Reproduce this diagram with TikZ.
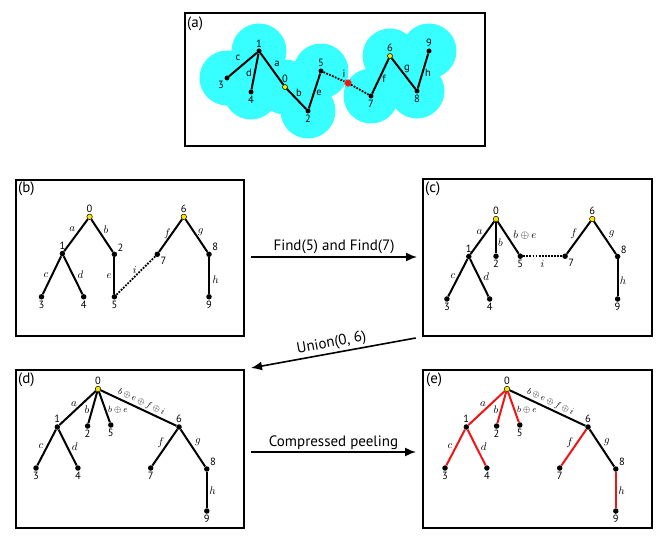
\documentclass[tikz,border=0pt]{standalone}
\usepackage{fontspec}
\setmainfont{PT Sans}
\usetikzlibrary{arrows.meta,shapes.geometric}
\definecolor{cyanfill}{RGB}{55,255,255}
\definecolor{redE}{RGB}{240,20,20}
\definecolor{yel}{RGB}{255,230,0}
\begin{document}
\begin{tikzpicture}[x=1pt,y=-1pt,
 dot/.style={circle,fill=black,inner sep=0pt,minimum size=5.5pt,label distance=1.5pt},
 ydot/.style={circle,fill=yel,draw=black,line width=0.5pt,inner sep=0pt,minimum size=5.5pt,label distance=1.5pt},
 every label/.style={font=\fontsize{10.5}{12}\selectfont,inner sep=1pt},
 el/.style={font=\fontsize{11}{12}\selectfont,inner sep=0pt},
 sl/.style={font=\fontsize{10.5}{12}\selectfont,inner sep=0pt},
 tedge/.style={line width=2pt},
 dedge/.style={line width=1.8pt,dash pattern=on 1.8pt off 1.3pt},
 panel/.style={draw,line width=1.6pt},
 plabel/.style={font=\fontsize{15}{17}\selectfont,anchor=north west,inner sep=0pt},
 arr/.style={line width=1.6pt,-{Latex[length=11pt,width=9pt]}},
 alabel/.style={font=\fontsize{15}{17}\selectfont,inner sep=2pt}
]
\useasboundingbox (0,0) rectangle (664,545);

% ---------------- panel (a)
\draw[panel] (185,13) rectangle (485,146);
\node[plabel] (la) at (187,17) {(a)};
\foreach \x/\y in {259/51,227/78,251/92,285/87,308/111,321/71,371/96,390/56,417/91,429/51}
  \fill[cyanfill] (\x,\y) circle (27.5);
\node[dot,minimum size=5pt,label={above:1}] (a1) at (259,51) {};
\node[dot,minimum size=5pt,label={below left:3}] (a3) at (227,78) {};
\node[dot,minimum size=5pt,label={below:4}] (a4) at (251,92) {};
\node[ydot,minimum size=5pt,label={above:0}] (a0) at (285,87) {};
\node[dot,minimum size=5pt,label={below:2}] (a2) at (308,111) {};
\node[dot,minimum size=5pt,label={above:5}] (a5) at (321,71) {};
\node[star,star points=10,star point ratio=1.7,fill=redE,inner sep=0pt,minimum size=9pt] (ast) at (348,83) {};
\node[dot,minimum size=5pt,label={below:7}] (a7) at (371,96) {};
\node[ydot,minimum size=5pt,label={above:6}] (a6) at (390,56) {};
\node[dot,minimum size=5pt,label={below:8}] (a8) at (417,91) {};
\node[dot,minimum size=5pt,label={above:9}] (a9) at (429,51) {};
\draw[tedge] (a1) -- (a3);
\draw[tedge] (a1) -- (a4);
\draw[tedge] (a1) -- (a0);
\draw[tedge] (a0) -- (a2);
\draw[tedge] (a2) -- (a5);
\draw[dedge] (a5) -- (ast);
\draw[dedge] (ast) -- (a7);
\draw[tedge] (a7) -- (a6);
\draw[tedge] (a6) -- (a8);
\draw[tedge] (a8) -- (a9);
\node[sl] (ac) at (238,58) {c};
\node[sl] (ad) at (249,73) {d};
\node[sl] (aa) at (277,64) {a};
\node[sl] (ab) at (299,93) {b};
\node[sl] (ae) at (319,93) {e};
\node[sl] (ai) at (344,74) {i};
\node[sl] (af) at (384,79) {f};
\node[sl] (ag) at (407,69) {g};
\node[sl] (ah) at (428,73) {h};

% ---------------- panel (b)
\draw[panel] (16,180) rectangle (244,336);
\node[plabel] (lb) at (18,182) {(b)};
\node[ydot,label={above:0}] (b0) at (89.6,216.8) {};
\node[dot,label={above:1}] (b1) at (62.4,253.6) {};
\node[dot,label={[label distance=0pt]above right:2}] (b2) at (114.4,254.3) {};
\node[dot,label={below:3}] (b3) at (41.5,296.8) {};
\node[dot,label={below:4}] (b4) at (83.7,296.8) {};
\node[dot,label={below:5}] (b5) at (114.4,296.8) {};
\node[ydot,label={above:6}] (b6) at (183.8,216.8) {};
\node[dot,label={[label distance=0pt]below right:7}] (b7) at (157.3,254.3) {};
\node[dot,label={[label distance=0pt]above right:8}] (b8) at (209,254.3) {};
\node[dot,label={below:9}] (b9) at (209,296.8) {};
\draw[tedge] (b0) -- (b1);
\draw[tedge] (b0) -- (b2);
\draw[tedge] (b1) -- (b3);
\draw[tedge] (b1) -- (b4);
\draw[tedge] (b2) -- (b5);
\draw[dedge] (b5) -- (b7);
\draw[tedge] (b7) -- (b6);
\draw[tedge] (b6) -- (b8);
\draw[tedge] (b8) -- (b9);
\node[el] (bla) at (72.2,229.4) {$a$};
\node[el] (blb) at (105.9,229.4) {$b$};
\node[el] (blc) at (46,274.7) {$c$};
\node[el] (bld) at (80.4,274.7) {$d$};
\node[el] (ble) at (109.2,276.4) {$e$};
\node[el] (blf) at (167.4,233.8) {$f$};
\node[el] (blg) at (200.8,232) {$g$};
\node[el] (blh) at (215.5,279.8) {$h$};
\node[el] (bli) at (134.7,270.3) {$i$};

% ---------------- panel (c)
\draw[panel] (423,179) rectangle (652,336);
\node[plabel] (lc) at (425,182) {(c)};
\node[ydot,label={above:0}] (c0) at (496,219) {};
\node[dot,label={above:1}] (c1) at (468.8,256.5) {};
\node[dot,label={below:2}] (c2) at (496,256.2) {};
\node[dot,label={below:5}] (c5) at (520.3,256.2) {};
\node[dot,label={[label distance=0pt]below right:7}] (c7) at (565.1,256.2) {};
\node[ydot,label={above:6}] (c6) at (592.3,219) {};
\node[dot,label={[label distance=0pt]above right:8}] (c8) at (617.6,256.5) {};
\node[dot,label={below:9}] (c9) at (617.6,299) {};
\node[dot,label={below:3}] (c3) at (446.9,299) {};
\node[dot,label={below:4}] (c4) at (489.7,299) {};
\draw[tedge] (c0) -- (c1);
\draw[tedge] (c0) -- (c2);
\draw[tedge] (c0) -- (c5);
\draw[tedge] (c1) -- (c3);
\draw[tedge] (c1) -- (c4);
\draw[dedge] (c5) -- (c7);
\draw[tedge] (c7) -- (c6);
\draw[tedge] (c6) -- (c8);
\draw[tedge] (c8) -- (c9);
\node[el] (cla) at (479.4,232.4) {$a$};
\node[el] (clb) at (500.4,242.6) {$b$};
\node[el,font=\fontsize{11}{12}\selectfont] (clbe) at (525,235.1) {$b\oplus e$};
\node[el] (clc) at (452.9,275.9) {$c$};
\node[el] (cld) at (486.1,276.6) {$d$};
\node[el] (cli) at (542.5,264) {$i$};
\node[el] (clf) at (574,233.4) {$f$};
\node[el] (clg) at (611.6,234.4) {$g$};
\node[el] (clh) at (622.9,280.3) {$h$};

% ---------------- panels (d) and (e)
\draw[panel] (16,370) rectangle (244,528);
\node[plabel] (ld) at (18,373) {(d)};
\draw[panel] (423,370) rectangle (652,528);
\node[plabel] (le) at (426,373) {(e)};
\foreach \p/\dx/\rc in {d/0/black,e/409/redE}{
\begin{scope}[xshift=\dx]
\node[ydot,label={above:0}] (\p0) at (98,389) {};
\node[dot,label={above:1}] (\p1) at (57.3,427) {};
\node[dot,label={below:2}] (\p2) at (87.6,426) {};
\node[dot,label={below:5}] (\p5) at (110.8,425) {};
\node[dot,label={above:6}] (\p6) at (179,427) {};
\node[dot,label={below:3}] (\p3) at (36,468) {};
\node[dot,label={below:4}] (\p4) at (77.9,468) {};
\node[dot,label={below:7}] (\p7) at (150.7,468) {};
\node[dot,label={[label distance=0pt]above right:8}] (\p8) at (206.8,469) {};
\node[dot,label={below:9}] (\p9) at (206.8,511) {};
\draw[tedge,\rc] (\p0) -- (\p1);
\draw[tedge,\rc] (\p0) -- (\p2);
\draw[tedge,\rc] (\p0) -- (\p5);
\draw[tedge] (\p0) -- node[sloped,above,pos=0.5,inner sep=1.5pt,font=\fontsize{9}{10}\selectfont] {$b\oplus e\oplus f\oplus i$} (\p6);
\draw[tedge,\rc] (\p1) -- (\p3);
\draw[tedge,\rc] (\p1) -- (\p4);
\draw[tedge,\rc] (\p6) -- (\p7);
\draw[tedge] (\p6) -- (\p8);
\draw[tedge,\rc] (\p8) -- (\p9);
\node[el] (\p la) at (74,404.3) {$a$};
\node[el] (\p lb) at (87,410) {$b$};
\node[el,font=\fontsize{9}{10}\selectfont] (\p lbe) at (118,410) {$b\oplus e$};
\node[el] (\p lc) at (41,445.7) {$c$};
\node[el] (\p ld) at (74.7,446.7) {$d$};
\node[el] (\p lf) at (161,442.7) {$f$};
\node[el] (\p lg) at (198,442.7) {$g$};
\node[el] (\p lh) at (212.6,491) {$h$};
\end{scope}
}

% ---------------- arrows
\coordinate (f1) at (251,257);
\coordinate (f2) at (417,257);
\draw[arr] (f1) -- node[above,alabel] {Find(5) and Find(7)} (f2);
\coordinate (u1) at (415.7,338);
\coordinate (u2) at (251,368);
\draw[arr] (u1) -- node[sloped,above,alabel] {Union(0, 6)} (u2);
\coordinate (p1) at (251,452);
\coordinate (p2) at (416,452);
\draw[arr] (p1) -- node[above,alabel] {Compressed peeling} (p2);
\end{tikzpicture}
\end{document}
